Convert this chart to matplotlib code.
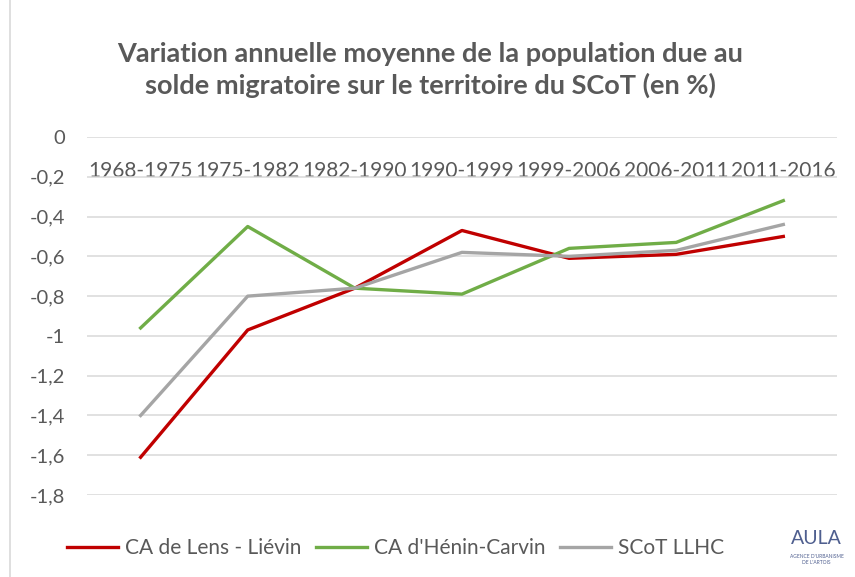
import matplotlib.pyplot as plt
from matplotlib.lines import Line2D
from matplotlib.ticker import FuncFormatter

# periods (categories)
periods = ['1968-1975', '1975-1982', '1982-1990', '1990-1999',
           '1999-2006', '2006-2011', '2011-2016']

# values (%)
lens_lievin = [-1.61, -0.97, -0.76, -0.47, -0.61, -0.59, -0.50]
henin_carvin = [-0.96, -0.45, -0.76, -0.79, -0.56, -0.53, -0.32]
scot_llhc = [-1.40, -0.80, -0.76, -0.58, -0.60, -0.57, -0.44]

plt.rcParams['font.family'] = ['Lato', 'DejaVu Sans']
grey_txt = '#595959'

fig = plt.figure(figsize=(8.55, 5.77), dpi=100)
ax = fig.add_axes([0.1018, 0.142, 0.877, 0.6206])

x = range(len(periods))
ax.plot(x, lens_lievin, color='#C00000', lw=2.4, label='CA de Lens - Liévin')
ax.plot(x, henin_carvin, color='#70AD47', lw=2.4, label="CA d'Hénin-Carvin")
ax.plot(x, scot_llhc, color='#A5A5A5', lw=2.4, label='SCoT LLHC')

ax.set_xlim(-0.5, len(periods) - 0.5)
ax.set_ylim(-1.8, 0)
ax.set_yticks([-1.8, -1.6, -1.4, -1.2, -1.0, -0.8, -0.6, -0.4, -0.2, 0])
ax.yaxis.set_major_formatter(FuncFormatter(lambda v, p: ('%g' % round(v, 1)).replace('.', ',')))
ax.grid(axis='y', color='#D9D9D9', lw=1.1)
ax.set_axisbelow(True)

# category axis crosses at 0 (labels just under the 0 line)
ax.spines['bottom'].set_position(('data', 0))
for s in ['top', 'right', 'left', 'bottom']:
    ax.spines[s].set_color('none')
ax.set_xticks(list(x))
ax.set_xticklabels(periods)
ax.tick_params(axis='x', length=0, pad=17, labelsize=15.0, labelcolor=grey_txt)
ax.tick_params(axis='y', length=0, pad=16, labelsize=14.5, labelcolor=grey_txt)

fig.text(0.503, 0.879, 'Variation annuelle moyenne de la population due au\nsolde migratoire sur le territoire du SCoT (en %)',
         ha='center', va='center', fontsize=19.5, fontweight='bold', color=grey_txt, linespacing=1.3)

fig.legend(loc='center', bbox_to_anchor=(0.463, 0.05), ncol=3, frameon=False,
           fontsize=15, labelcolor=grey_txt, handlelength=2.45, handletextpad=0.33,
           columnspacing=0.7)

# chart border (left edge visible)
fig.add_artist(Line2D([0.012, 0.012], [0, 1], color='#D9D9D9', lw=1.2, transform=fig.transFigure))

# logo placeholder
fig.text(0.955, 0.066, 'AULA', ha='center', va='center', fontsize=14, color='#4F5F8F')
fig.text(0.955, 0.030, "AGENCE D'URBANISME\nDE L'ARTOIS", ha='center', va='center', fontsize=3.5,
         color='#4F5F8F', linespacing=1.1)

fig.savefig('out.png', dpi=100)
